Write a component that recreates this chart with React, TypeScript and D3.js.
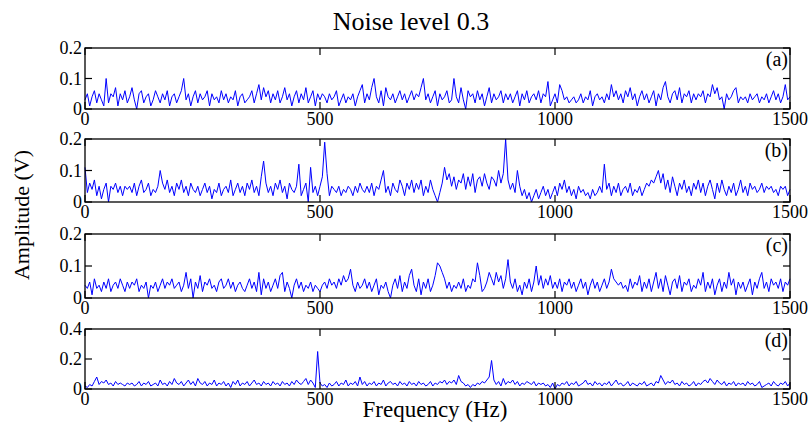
import React from "react";
import * as d3 from "d3";

// spectrum sampled every 5 Hz, 0..1500 Hz
const step = 5;
const freqs = d3.range(0, 1501, step);

const xTicks = [0, 500, 1000, 1500];
const panelLabels = ["(a)", "(b)", "(c)", "(d)"];
const yMaxes = [0.2, 0.2, 0.2, 0.4];
const yTickSets = [
  [0, 0.1, 0.2],
  [0, 0.1, 0.2],
  [0, 0.1, 0.2],
  [0, 0.2, 0.4],
];

// (a) plain noise
const seriesA = [
  0.03,0.05,0.01,0.04,0.06,0.02,0.05,0.03,0.01,0.10,0.02,0.05,0.04,0.07,0.01,0.05,0.03,0.06,0.02,0.04,
  0.07,0.03,0.00,0.05,0.06,0.02,0.04,0.05,0.01,0.03,0.06,0.04,0.02,0.05,0.03,0.06,0.01,0.04,0.05,0.02,
  0.04,0.06,0.10,0.03,0.05,0.01,0.04,0.06,0.02,0.05,0.03,0.04,0.06,0.01,0.05,0.03,0.04,0.02,0.06,0.03,
  0.05,0.02,0.04,0.03,0.06,0.01,0.04,0.05,0.02,0.03,0.04,0.06,0.02,0.05,0.08,0.03,0.07,0.04,0.06,0.02,
  0.05,0.03,0.06,0.02,0.04,0.07,0.03,0.05,0.01,0.04,0.06,0.02,0.05,0.03,0.07,0.02,0.04,0.06,0.01,0.05,
  0.03,0.05,0.04,0.02,0.05,0.03,0.04,0.06,0.01,0.03,0.05,0.02,0.04,0.03,0.05,0.01,0.04,0.06,0.08,0.02,
  0.05,0.03,0.07,0.10,0.04,0.02,0.06,0.01,0.07,0.04,0.03,0.05,0.02,0.04,0.06,0.03,0.05,0.02,0.04,0.06,
  0.03,0.05,0.04,0.07,0.10,0.03,0.05,0.02,0.04,0.06,0.01,0.05,0.03,0.04,0.06,0.02,0.03,0.10,0.04,0.02,
  0.07,0.03,0.00,0.06,0.04,0.05,0.02,0.06,0.03,0.05,0.01,0.04,0.07,0.02,0.05,0.03,0.04,0.06,0.02,0.05,
  0.03,0.05,0.02,0.04,0.06,0.01,0.05,0.03,0.06,0.02,0.04,0.05,0.03,0.06,0.02,0.05,0.04,0.09,0.01,0.03,
  0.05,0.02,0.08,0.06,0.03,0.04,0.02,0.03,0.04,0.02,0.03,0.05,0.02,0.04,0.03,0.06,0.01,0.04,0.05,0.03,
  0.04,0.02,0.05,0.03,0.08,0.04,0.06,0.03,0.05,0.02,0.06,0.04,0.07,0.03,0.05,0.01,0.04,0.06,0.03,0.05,
  0.02,0.04,0.06,0.01,0.05,0.03,0.07,0.09,0.04,0.02,0.05,0.06,0.03,0.07,0.02,0.05,0.04,0.06,0.02,0.05,
  0.03,0.05,0.04,0.06,0.02,0.05,0.04,0.08,0.05,0.07,0.03,0.04,0.00,0.05,0.03,0.04,0.06,0.07,0.02,0.04,
  0.03,0.04,0.02,0.05,0.03,0.04,0.05,0.02,0.04,0.03,0.05,0.02,0.04,0.06,0.03,0.05,0.02,0.04,0.08,0.03,
  0.04,
];

// (b) peaks near 510 and 895 Hz
const seriesB = [
  0.11,0.03,0.06,0.04,0.07,0.02,0.05,0.01,0.04,0.06,0.00,0.05,0.04,0.06,0.03,0.05,0.02,0.05,0.04,0.05,
  0.03,0.06,0.02,0.05,0.07,0.03,0.04,0.06,0.02,0.04,0.03,0.05,0.10,0.06,0.04,0.07,0.03,0.05,0.02,0.06,
  0.04,0.07,0.03,0.05,0.02,0.06,0.04,0.03,0.05,0.02,0.04,0.06,0.03,0.05,0.01,0.04,0.03,0.06,0.02,0.04,
  0.05,0.03,0.07,0.02,0.04,0.06,0.03,0.05,0.02,0.06,0.04,0.07,0.03,0.05,0.02,0.08,0.13,0.06,0.03,0.05,
  0.02,0.06,0.04,0.07,0.03,0.05,0.01,0.06,0.04,0.03,0.05,0.12,0.02,0.04,0.06,0.00,0.11,0.03,0.05,0.02,
  0.05,0.08,0.19,0.09,0.02,0.05,0.04,0.03,0.05,0.02,0.04,0.03,0.05,0.04,0.02,0.05,0.03,0.06,0.04,0.03,
  0.05,0.03,0.06,0.02,0.05,0.04,0.07,0.10,0.03,0.05,0.02,0.06,0.04,0.03,0.07,0.05,0.02,0.06,0.04,0.07,
  0.03,0.06,0.04,0.07,0.02,0.05,0.03,0.07,0.04,0.02,0.00,0.03,0.06,0.11,0.07,0.09,0.05,0.08,0.04,0.07,
  0.06,0.09,0.04,0.08,0.05,0.09,0.03,0.07,0.08,0.05,0.09,0.06,0.04,0.08,0.07,0.05,0.10,0.06,0.09,0.20,
  0.07,0.04,0.06,0.03,0.10,0.05,0.02,0.04,0.01,0.03,0.00,0.02,0.04,0.01,0.03,0.05,0.02,0.04,0.01,0.03,
  0.05,0.02,0.06,0.04,0.07,0.03,0.05,0.02,0.04,0.01,0.05,0.03,0.04,0.02,0.03,0.01,0.04,0.02,0.03,0.05,
  0.03,0.12,0.04,0.06,0.02,0.05,0.03,0.06,0.02,0.04,0.05,0.03,0.06,0.02,0.04,0.03,0.05,0.02,0.04,0.06,
  0.05,0.07,0.06,0.08,0.10,0.06,0.09,0.04,0.07,0.03,0.08,0.05,0.02,0.06,0.04,0.07,0.03,0.05,0.02,0.06,
  0.04,0.07,0.03,0.06,0.02,0.05,0.07,0.04,0.01,0.06,0.03,0.07,0.04,0.02,0.05,0.03,0.06,0.02,0.04,0.07,
  0.03,0.05,0.02,0.06,0.04,0.05,0.03,0.04,0.06,0.03,0.05,0.04,0.05,0.03,0.04,0.02,0.05,0.04,0.05,0.02,
  0.04,
];

// (c) broad bump 750-900 Hz
const seriesC = [
  0.04,0.03,0.05,0.01,0.06,0.03,0.04,0.02,0.05,0.03,0.06,0.02,0.04,0.05,0.03,0.06,0.04,0.02,0.05,0.03,
  0.05,0.04,0.06,0.02,0.04,0.03,0.05,0.00,0.04,0.03,0.05,0.02,0.04,0.06,0.03,0.05,0.04,0.06,0.03,0.04,
  0.05,0.02,0.04,0.08,0.03,0.06,0.00,0.05,0.03,0.07,0.02,0.05,0.04,0.06,0.03,0.04,0.02,0.05,0.06,0.03,
  0.04,0.06,0.03,0.05,0.02,0.04,0.05,0.03,0.02,0.04,0.06,0.03,0.05,0.02,0.08,0.01,0.06,0.03,0.05,0.02,
  0.04,0.06,0.03,0.07,0.08,0.02,0.05,0.03,0.00,0.04,0.06,0.03,0.05,0.02,0.04,0.03,0.05,0.02,0.04,0.03,
  0.02,0.04,0.05,0.03,0.06,0.04,0.05,0.03,0.06,0.04,0.07,0.05,0.06,0.09,0.04,0.02,0.05,0.03,0.04,0.06,
  0.03,0.05,0.02,0.04,0.06,0.01,0.04,0.03,0.05,0.02,0.00,0.04,0.06,0.03,0.07,0.02,0.05,0.03,0.07,0.09,
  0.04,0.02,0.06,0.01,0.05,0.03,0.06,0.02,0.04,0.07,0.11,0.10,0.08,0.06,0.03,0.05,0.02,0.04,0.03,0.05,
  0.03,0.06,0.02,0.04,0.03,0.06,0.05,0.11,0.07,0.02,0.03,0.05,0.08,0.06,0.04,0.08,0.05,0.07,0.03,0.06,
  0.12,0.05,0.03,0.06,0.02,0.04,0.01,0.05,0.03,0.06,0.02,0.05,0.10,0.04,0.07,0.03,0.06,0.04,0.07,0.03,
  0.05,0.03,0.06,0.02,0.05,0.04,0.06,0.03,0.05,0.02,0.04,0.06,0.03,0.05,0.01,0.04,0.06,0.03,0.05,0.02,
  0.04,0.06,0.03,0.05,0.09,0.06,0.05,0.04,0.05,0.03,0.04,0.02,0.06,0.03,0.05,0.04,0.07,0.02,0.05,0.03,
  0.06,0.02,0.05,0.08,0.03,0.06,0.02,0.07,0.04,0.01,0.05,0.06,0.03,0.07,0.02,0.05,0.04,0.06,0.02,0.04,
  0.03,0.06,0.04,0.08,0.02,0.05,0.03,0.06,0.01,0.04,0.06,0.02,0.05,0.03,0.08,0.04,0.06,0.01,0.05,0.03,
  0.05,0.02,0.04,0.06,0.01,0.05,0.03,0.06,0.08,0.03,0.05,0.02,0.06,0.04,0.05,0.03,0.06,0.02,0.05,0.04,
  0.06,
];

// (d) peaks near 495 and 865 Hz
const seriesD = [
  0.02,0.01,0.03,0.02,0.05,0.08,0.03,0.05,0.04,0.06,0.03,0.04,0.02,0.05,0.03,0.04,0.03,0.02,0.04,0.03,
  0.04,0.02,0.03,0.05,0.02,0.04,0.03,0.05,0.02,0.03,0.04,0.02,0.06,0.03,0.04,0.02,0.05,0.03,0.07,0.04,
  0.03,0.05,0.02,0.04,0.06,0.03,0.05,0.02,0.07,0.04,0.03,0.05,0.02,0.04,0.03,0.06,0.02,0.04,0.03,0.05,
  0.02,0.04,0.01,0.05,0.03,0.06,0.02,0.04,0.03,0.05,0.02,0.04,0.06,0.03,0.04,0.02,0.05,0.03,0.04,0.02,
  0.05,0.03,0.04,0.02,0.05,0.03,0.04,0.02,0.05,0.03,0.06,0.04,0.03,0.05,0.07,0.03,0.06,0.04,0.01,0.25,
  0.04,0.02,0.03,0.01,0.04,0.02,0.03,0.05,0.02,0.04,0.03,0.06,0.02,0.04,0.03,0.05,0.02,0.08,0.03,0.05,
  0.02,0.04,0.03,0.05,0.02,0.04,0.03,0.06,0.02,0.04,0.05,0.03,0.04,0.02,0.05,0.03,0.04,0.02,0.05,0.03,
  0.04,0.02,0.05,0.03,0.04,0.02,0.03,0.05,0.02,0.04,0.03,0.05,0.04,0.06,0.03,0.05,0.04,0.06,0.03,0.09,
  0.05,0.04,0.02,0.03,0.01,0.03,0.02,0.04,0.03,0.05,0.04,0.06,0.08,0.19,0.06,0.03,0.05,0.02,0.07,0.03,
  0.05,0.04,0.06,0.03,0.05,0.02,0.04,0.03,0.05,0.04,0.03,0.05,0.02,0.04,0.03,0.04,0.02,0.03,0.01,0.04,
  0.00,0.03,0.02,0.04,0.03,0.05,0.02,0.04,0.03,0.05,0.02,0.03,0.04,0.06,0.03,0.04,0.02,0.05,0.03,0.04,
  0.02,0.04,0.03,0.05,0.02,0.04,0.06,0.03,0.04,0.02,0.03,0.05,0.02,0.04,0.03,0.02,0.04,0.03,0.05,0.02,
  0.03,0.04,0.02,0.05,0.04,0.09,0.06,0.03,0.05,0.04,0.06,0.03,0.04,0.02,0.05,0.03,0.04,0.02,0.03,0.05,
  0.02,0.04,0.03,0.05,0.06,0.04,0.07,0.05,0.03,0.06,0.04,0.03,0.05,0.02,0.04,0.03,0.05,0.02,0.04,0.03,
  0.04,0.02,0.05,0.03,0.04,0.02,0.03,0.05,0.01,0.02,0.03,0.04,0.02,0.05,0.03,0.02,0.04,0.03,0.05,0.02,
  0.04,
];

const allSeries = [seriesA, seriesB, seriesC, seriesD];

const W = 810;
const H = 426;
const left = 85;
const right = 790;
// panel boxes (top, bottom)
const panels = [
  [48, 109],
  [139, 202],
  [234, 298],
  [329, 389],
];
const tickLen = 7;
const font = '"Liberation Serif", "Times New Roman", serif';

export default function App() {
  const x = d3.scaleLinear().domain([0, 1500]).range([left, right]);

  return (
    <svg
      width={W}
      height={H}
      style={{ position: "fixed", left: 0, top: 0, background: "#fff" }}
      fontFamily={font}
    >
      <rect width={W} height={H} fill="#fff" />
      <text x={411} y={30} textAnchor="middle" fontSize={26}>
        Noise level 0.3
      </text>

      {allSeries.map((vals, i) => {
        const [top, bottom] = panels[i];
        const y = d3.scaleLinear().domain([0, yMaxes[i]]).range([bottom, top]);
        const line = d3
          .line<number>()
          .x((_, j) => x(freqs[j]))
          .y((d) => y(d));
        return (
          <g key={i}>
            <path d={line(vals) ?? ""} fill="none" stroke="#0000ff" strokeWidth={1} />
            <rect
              x={left}
              y={top}
              width={right - left}
              height={bottom - top}
              fill="none"
              stroke="#000"
              strokeWidth={1.3}
            />
            {xTicks.map((t) => (
              <g key={"x" + t}>
                <line x1={x(t)} x2={x(t)} y1={bottom} y2={bottom - tickLen} stroke="#000" strokeWidth={1.2} />
                <line x1={x(t)} x2={x(t)} y1={top} y2={top + tickLen} stroke="#000" strokeWidth={1.2} />
                <text x={x(t)} y={bottom + 16} textAnchor="middle" fontSize={18}>
                  {t}
                </text>
              </g>
            ))}
            {yTickSets[i].map((t) => (
              <g key={"y" + t}>
                <line x1={left} x2={left + tickLen} y1={y(t)} y2={y(t)} stroke="#000" strokeWidth={1.2} />
                <line x1={right} x2={right - tickLen} y1={y(t)} y2={y(t)} stroke="#000" strokeWidth={1.2} />
                <text x={left - 3} y={y(t) + 6} textAnchor="end" fontSize={18}>
                  {t}
                </text>
              </g>
            ))}
            <text x={right - 2} y={top + 18} textAnchor="end" fontSize={20}>
              {panelLabels[i]}
            </text>
          </g>
        );
      })}

      <text x={435} y={417} textAnchor="middle" fontSize={23}>
        Frequency (Hz)
      </text>
      <text transform="translate(29,215) rotate(-90)" textAnchor="middle" fontSize={22}>
        Amplitude (V)
      </text>
    </svg>
  );
}
